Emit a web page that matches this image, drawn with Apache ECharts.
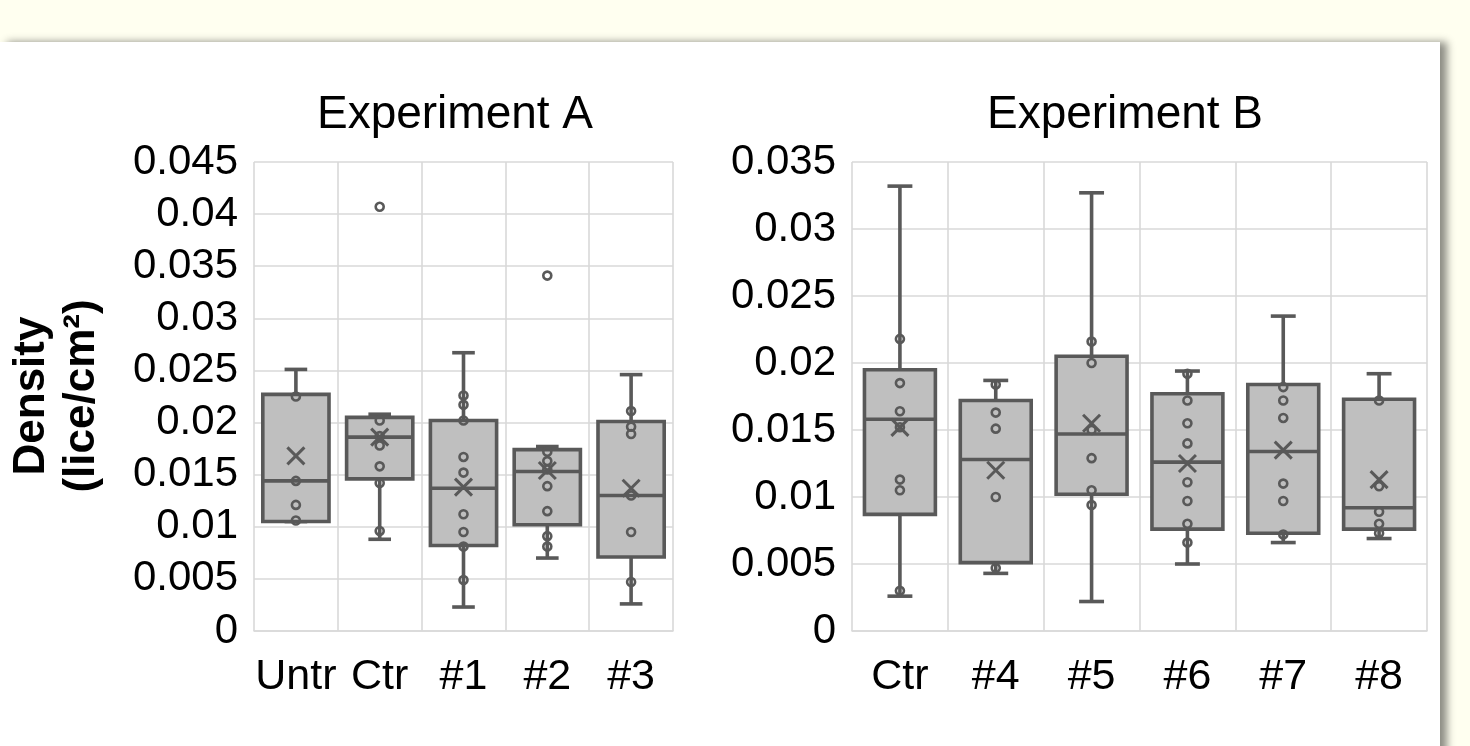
<!DOCTYPE html>
<html>
<head>
<meta charset="utf-8">
<script src="https://cdn.jsdelivr.net/npm/echarts@6/dist/echarts.min.js"></script>
<style>
html,body{margin:0;padding:0;background:#fffff0;}
#chart{width:1470px;height:746px;}
</style>
</head>
<body>
<div id="chart"></div>
<script>
// ---------- DATA ----------
const categoriesA = ['Untr', 'Ctr', '#1', '#2', '#3'];
const categoriesB = ['Ctr', '#4', '#5', '#6', '#7', '#8'];

// [whisker low, Q1, median, Q3, whisker high]
const boxA = [
  [0.0105, 0.0105, 0.0144, 0.0227, 0.0251],
  [0.0088, 0.0146, 0.0186, 0.0205, 0.0208],
  [0.0023, 0.0082, 0.0137, 0.0202, 0.0267],
  [0.0070, 0.0102, 0.0153, 0.0174, 0.0177],
  [0.0026, 0.0071, 0.0130, 0.0201, 0.0246]
];
const meanA = [0.0168, 0.0186, 0.0138, 0.0154, 0.0137];
const pointsA = [
  [0.0225, 0.0144, 0.0121, 0.0106],
  [0.0202, 0.0187, 0.0178, 0.0158, 0.0142, 0.0096],
  [0.0226, 0.0217, 0.0202, 0.0167, 0.0152, 0.0112, 0.0095, 0.0081, 0.0049],
  [0.0172, 0.0163, 0.0155, 0.0139, 0.0115, 0.0091, 0.0081],
  [0.0211, 0.0196, 0.0189, 0.0130, 0.0095, 0.0047]
];
const outliersA = [[], [0.0407], [], [0.0341], []];

const boxB = [
  [0.0026, 0.0087, 0.0158, 0.0195, 0.0332],
  [0.0043, 0.0051, 0.0128, 0.0172, 0.0187],
  [0.0022, 0.0102, 0.0147, 0.0205, 0.0327],
  [0.0050, 0.0076, 0.0126, 0.0177, 0.0194],
  [0.0066, 0.0073, 0.0134, 0.0184, 0.0235],
  [0.0069, 0.0076, 0.0092, 0.0173, 0.0192]
];
const meanB = [0.0152, 0.0120, 0.0155, 0.0125, 0.0135, 0.0113];
const pointsB = [
  [0.0218, 0.0185, 0.0164, 0.0152, 0.0113, 0.0105, 0.0030],
  [0.0184, 0.0163, 0.0151, 0.0100, 0.0047],
  [0.0216, 0.0200, 0.0150, 0.0129, 0.0105, 0.0094],
  [0.0192, 0.0172, 0.0155, 0.0140, 0.0111, 0.0097, 0.0080, 0.0066],
  [0.0182, 0.0172, 0.0159, 0.0110, 0.0097, 0.0072],
  [0.0172, 0.0108, 0.0089, 0.0080, 0.0073]
];
const outliersB = [[], [], [], [], [], []];

const yMaxA = 0.045, yMaxB = 0.035, yStep = 0.005;
const titleA = 'Experiment A', titleB = 'Experiment B';
const yName = 'Density\n(lice/cm²)';

// ---------- STYLE ----------
const FONT = '"Liberation Sans", Arial, Helvetica, sans-serif';
const STROKE = '#595959';
const FILL = '#bfbfbf';
const GRIDC = '#d9d9d9';

function boxData(box, mean) {
  return box.map((b, i) => [i, b[0], b[1], b[2], b[3], b[4], mean[i]]);
}
function ptData(pts) {
  const out = [];
  pts.forEach((arr, i) => arr.forEach(v => out.push([i, v])));
  return out;
}

function makeRender(boxRatio, capRatio) {
  return function (params, api) {
    const x = api.value(0);
    const lo = api.coord([x, api.value(1)]);
    const q1 = api.coord([x, api.value(2)]);
    const md = api.coord([x, api.value(3)]);
    const q3 = api.coord([x, api.value(4)]);
    const hi = api.coord([x, api.value(5)]);
    const mn = api.coord([x, api.value(6)]);
    const band = api.size([1, 0])[0];
    const hw = band * boxRatio / 2;
    const cw = band * capRatio / 2;
    const cx = lo[0];
    const LW = 3.6;
    const ls = { stroke: STROKE, lineWidth: LW, fill: null };
    const xs = 8.5;
    return {
      type: 'group',
      children: [
        { type: 'line', shape: { x1: cx, y1: hi[1], x2: cx, y2: q3[1] }, style: ls },
        { type: 'line', shape: { x1: cx, y1: q1[1], x2: cx, y2: lo[1] }, style: ls },
        { type: 'line', shape: { x1: cx - cw, y1: hi[1], x2: cx + cw, y2: hi[1] }, style: ls },
        { type: 'line', shape: { x1: cx - cw, y1: lo[1], x2: cx + cw, y2: lo[1] }, style: ls },
        { type: 'rect', shape: { x: cx - hw, y: q3[1], width: hw * 2, height: q1[1] - q3[1] },
          style: { fill: FILL, stroke: STROKE, lineWidth: LW } },
        { type: 'line', shape: { x1: cx - hw, y1: md[1], x2: cx + hw, y2: md[1] }, style: ls },
        { type: 'line', shape: { x1: mn[0] - xs, y1: mn[1] - xs, x2: mn[0] + xs, y2: mn[1] + xs },
          style: { stroke: STROKE, lineWidth: 3 }, z2: 5 },
        { type: 'line', shape: { x1: mn[0] - xs, y1: mn[1] + xs, x2: mn[0] + xs, y2: mn[1] - xs },
          style: { stroke: STROKE, lineWidth: 3 }, z2: 5 }
      ]
    };
  };
}

const pointStyle = {
  symbol: 'circle', symbolSize: 8,
  itemStyle: { color: 'rgba(0,0,0,0)', borderColor: STROKE, borderWidth: 2.6, opacity: 1 },
  silent: true, z: 4
};

function xAxis(cats, gi) {
  return {
    type: 'category', gridIndex: gi, data: cats, boundaryGap: true,
    axisLine: { show: true, lineStyle: { color: GRIDC, width: 1.6 } },
    axisTick: { show: false },
    splitLine: { show: true, lineStyle: { color: GRIDC, width: 1.6 } },
    axisLabel: { color: '#000', fontFamily: FONT, fontSize: 43, margin: 25, interval: 0 }
  };
}
function yAxis(max, gi) {
  return {
    type: 'value', gridIndex: gi, min: 0, max: max, interval: yStep,
    axisLine: { show: false }, axisTick: { show: false },
    splitLine: { show: true, lineStyle: { color: GRIDC, width: 1.6 } },
    axisLabel: {
      color: '#000', fontFamily: FONT, fontSize: 42, margin: 16,
      formatter: v => String(parseFloat(v.toFixed(3)))
    }
  };
}

const chart = echarts.init(document.getElementById('chart'), null, { renderer: 'canvas' });
chart.setOption({
  backgroundColor: 'transparent',
  animation: false,
  title: [
    { text: titleA, left: 455, top: 92, textAlign: 'center', padding: 0,
      textStyle: { fontFamily: FONT, fontSize: 46, fontWeight: 'normal', color: '#000' } },
    { text: titleB, left: 1125, top: 92, textAlign: 'center', padding: 0,
      textStyle: { fontFamily: FONT, fontSize: 46, fontWeight: 'normal', color: '#000' } }
  ],
  graphic: [
    { type: 'rect', z: -10, silent: true,
      shape: { x: 0, y: 42, width: 1440, height: 760 },
      style: { fill: '#ffffff', shadowBlur: 8, shadowOffsetX: 7, shadowOffsetY: 0, shadowColor: 'rgba(0,0,0,0.45)' } },
    { type: 'text', z: 10, x: 57, y: 396, rotation: Math.PI / 2,
      style: { text: yName, fontFamily: FONT, fontSize: 44, fontWeight: 'bold', fill: '#000',
        align: 'center', verticalAlign: 'middle', lineHeight: 50 } }
  ],
  grid: [
    { left: 254, right: 797, top: 162, bottom: 115 },
    { left: 852, right: 43, top: 162, bottom: 115 }
  ],
  xAxis: [xAxis(categoriesA, 0), xAxis(categoriesB, 1)],
  yAxis: [yAxis(yMaxA, 0), yAxis(yMaxB, 1)],
  series: [
    { type: 'custom', xAxisIndex: 0, yAxisIndex: 0, renderItem: makeRender(0.79, 0.27),
      data: boxData(boxA, meanA), z: 3, silent: true },
    { type: 'custom', xAxisIndex: 1, yAxisIndex: 1, renderItem: makeRender(0.74, 0.26),
      data: boxData(boxB, meanB), z: 3, silent: true },
    Object.assign({ type: 'scatter', xAxisIndex: 0, yAxisIndex: 0, data: ptData(pointsA) }, pointStyle),
    Object.assign({ type: 'scatter', xAxisIndex: 0, yAxisIndex: 0, data: ptData(outliersA) }, pointStyle),
    Object.assign({ type: 'scatter', xAxisIndex: 1, yAxisIndex: 1, data: ptData(pointsB) }, pointStyle),
    Object.assign({ type: 'scatter', xAxisIndex: 1, yAxisIndex: 1, data: ptData(outliersB) }, pointStyle)
  ]
});
</script>
</body>
</html>
